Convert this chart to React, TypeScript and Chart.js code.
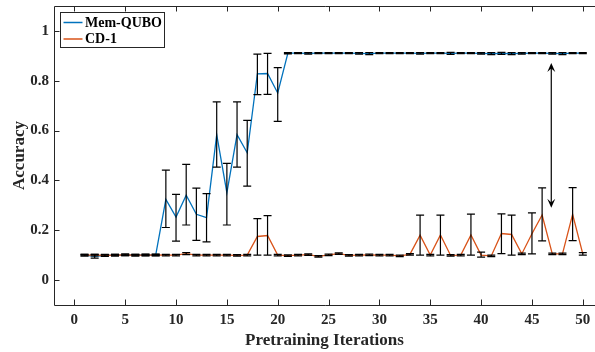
import { useEffect, useRef } from "react";
import { Chart, registerables } from "chart.js";

Chart.register(...registerables);

const iterations = [
  1, 2, 3, 4, 5, 6, 7, 8, 9, 10, 11, 12, 13, 14, 15, 16, 17, 18, 19, 20, 21, 22, 23, 24, 25,
  26, 27, 28, 29, 30, 31, 32, 33, 34, 35, 36, 37, 38, 39, 40, 41, 42, 43, 44, 45, 46, 47, 48, 49, 50,
];

const memQubo = [
  0.1, 0.095, 0.099, 0.1, 0.101, 0.1, 0.101, 0.1, 0.324, 0.253,
  0.341, 0.264, 0.251, 0.584, 0.351, 0.584, 0.511, 0.828, 0.829, 0.751,
  0.911, 0.911, 0.91, 0.911, 0.911, 0.911, 0.911, 0.91, 0.909, 0.911,
  0.911, 0.911, 0.911, 0.91, 0.911, 0.911, 0.91, 0.911, 0.911, 0.91,
  0.909, 0.91, 0.909, 0.91, 0.911, 0.911, 0.91, 0.909, 0.911, 0.911,
];
const memLow = [
  0.097, 0.088, 0.095, 0.097, 0.098, 0.097, 0.098, 0.097, 0.211, 0.156,
  0.221, 0.159, 0.153, 0.453, 0.221, 0.453, 0.377, 0.744, 0.745, 0.637,
  0.908, 0.909, 0.907, 0.909, 0.909, 0.909, 0.909, 0.907, 0.905, 0.909,
  0.909, 0.909, 0.909, 0.907, 0.909, 0.909, 0.906, 0.909, 0.909, 0.907,
  0.905, 0.906, 0.905, 0.907, 0.909, 0.909, 0.907, 0.905, 0.909, 0.909,
];
const memHigh = [
  0.103, 0.103, 0.103, 0.103, 0.104, 0.103, 0.104, 0.103, 0.441, 0.344,
  0.464, 0.369, 0.347, 0.715, 0.468, 0.715, 0.641, 0.907, 0.91, 0.853,
  0.913, 0.913, 0.913, 0.913, 0.913, 0.913, 0.913, 0.913, 0.913, 0.913,
  0.913, 0.913, 0.913, 0.913, 0.913, 0.913, 0.914, 0.913, 0.913, 0.913,
  0.913, 0.914, 0.913, 0.913, 0.913, 0.913, 0.913, 0.913, 0.913, 0.913,
];

const cd1 = [
  0.1, 0.1, 0.099, 0.1, 0.101, 0.1, 0.1, 0.101, 0.1, 0.1,
  0.106, 0.1, 0.1, 0.1, 0.1, 0.099, 0.1, 0.175, 0.179, 0.1,
  0.098, 0.1, 0.102, 0.095, 0.101, 0.106, 0.099, 0.1, 0.101, 0.1,
  0.1, 0.097, 0.103, 0.18, 0.1, 0.181, 0.099, 0.1, 0.181, 0.1,
  0.097, 0.187, 0.183, 0.105, 0.186, 0.261, 0.105, 0.105, 0.264, 0.105,
];
const cd1Low = [
  0.097, 0.097, 0.096, 0.097, 0.098, 0.097, 0.097, 0.098, 0.097, 0.097,
  0.102, 0.097, 0.097, 0.097, 0.097, 0.096, 0.097, 0.1, 0.1, 0.097,
  0.095, 0.097, 0.099, 0.092, 0.098, 0.103, 0.096, 0.097, 0.098, 0.097,
  0.097, 0.094, 0.1, 0.1, 0.097, 0.1, 0.096, 0.097, 0.1, 0.092,
  0.094, 0.106, 0.1, 0.102, 0.105, 0.157, 0.102, 0.102, 0.158, 0.1,
];
const cd1High = [
  0.103, 0.103, 0.102, 0.103, 0.104, 0.103, 0.103, 0.104, 0.103, 0.103,
  0.11, 0.103, 0.103, 0.103, 0.103, 0.102, 0.103, 0.247, 0.259, 0.103,
  0.101, 0.103, 0.105, 0.098, 0.104, 0.109, 0.102, 0.103, 0.104, 0.103,
  0.103, 0.1, 0.106, 0.261, 0.103, 0.261, 0.102, 0.103, 0.265, 0.112,
  0.1, 0.266, 0.261, 0.108, 0.27, 0.37, 0.108, 0.108, 0.371, 0.11,
];

const seriesNames = ["Mem-QUBO", "CD-1"];
const seriesColors = ["#0072BD", "#D95319"];
const xTicks = [0, 5, 10, 15, 20, 25, 30, 35, 40, 45, 50];
const yTicks = [0, 0.2, 0.4, 0.6, 0.8, 1];
const xTitle = "Pretraining Iterations";
const yTitle = "Accuracy";
const arrowX = 46.9;
const arrowFrom = 0.29;
const arrowTo = 0.871;

const FONT = "'Liberation Serif', 'Times New Roman', serif";
const AXIS_COLOR = "#262626";

const errorBarPlugin = {
  id: "errorBars",
  afterDatasetsDraw(chart: any) {
    const { ctx, scales } = chart;
    const xs = scales.x;
    const ys = scales.y;
    const sets = [
      [memLow, memHigh],
      [cd1Low, cd1High],
    ];
    ctx.save();
    ctx.strokeStyle = "#000";
    ctx.lineWidth = 1.2;
    sets.forEach(([lo, hi]) => {
      iterations.forEach((it, i) => {
        const px = xs.getPixelForValue(it);
        const y1 = ys.getPixelForValue(lo[i]);
        const y2 = ys.getPixelForValue(hi[i]);
        ctx.beginPath();
        ctx.moveTo(px, y1);
        ctx.lineTo(px, y2);
        ctx.moveTo(px - 4, y1);
        ctx.lineTo(px + 4, y1);
        ctx.moveTo(px - 4, y2);
        ctx.lineTo(px + 4, y2);
        ctx.stroke();
      });
    });
    ctx.restore();
  },
};

function arrowHead(ctx: any, x: number, tipY: number, dir: number) {
  const len = 9;
  const half = 4;
  ctx.beginPath();
  ctx.moveTo(x, tipY);
  ctx.lineTo(x - half, tipY + dir * len);
  ctx.lineTo(x, tipY + dir * len * 0.6);
  ctx.lineTo(x + half, tipY + dir * len);
  ctx.closePath();
  ctx.fill();
}

const framePlugin = {
  id: "frame",
  afterDraw(chart: any) {
    const { ctx, chartArea, scales } = chart;
    const { left, right, top, bottom } = chartArea;
    const xs = scales.x;
    const ys = scales.y;
    ctx.save();
    ctx.strokeStyle = AXIS_COLOR;
    ctx.lineWidth = 1;
    ctx.beginPath();
    ctx.moveTo(right + 5, top + 0.5);
    ctx.lineTo(left + 0.5, top + 0.5);
    ctx.lineTo(left + 0.5, bottom + 0.5);
    ctx.lineTo(right + 5, bottom + 0.5);
    ctx.stroke();
    ctx.beginPath();
    xTicks.forEach((v) => {
      const px = Math.round(xs.getPixelForValue(v)) + 0.5;
      ctx.moveTo(px, bottom);
      ctx.lineTo(px, bottom - 5.5);
      ctx.moveTo(px, top);
      ctx.lineTo(px, top + 5.5);
    });
    yTicks.forEach((v) => {
      const py = Math.round(ys.getPixelForValue(v)) + 0.5;
      ctx.moveTo(left, py);
      ctx.lineTo(left + 5.5, py);
    });
    ctx.stroke();

    const ax = xs.getPixelForValue(arrowX);
    const ay1 = ys.getPixelForValue(arrowFrom);
    const ay2 = ys.getPixelForValue(arrowTo);
    ctx.strokeStyle = "#000";
    ctx.fillStyle = "#000";
    ctx.lineWidth = 1.2;
    ctx.beginPath();
    ctx.moveTo(ax, ay1 - 4);
    ctx.lineTo(ax, ay2 + 4);
    ctx.stroke();
    arrowHead(ctx, ax, ay2, 1);
    arrowHead(ctx, ax, ay1, -1);

    const lx = left + 6.5;
    const ly = top + 6.5;
    const lw = 104;
    const lh = 35;
    ctx.fillStyle = "#fff";
    ctx.fillRect(lx, ly, lw, lh);
    ctx.strokeStyle = AXIS_COLOR;
    ctx.lineWidth = 1;
    ctx.strokeRect(lx, ly, lw, lh);
    ctx.font = `bold 14px ${FONT}`;
    ctx.textBaseline = "middle";
    ctx.textAlign = "left";
    seriesNames.forEach((name, i) => {
      const cy = ly + 10 + i * 16.5;
      ctx.strokeStyle = seriesColors[i];
      ctx.lineWidth = 1.5;
      ctx.beginPath();
      ctx.moveTo(lx + 3, cy);
      ctx.lineTo(lx + 22, cy);
      ctx.stroke();
      ctx.fillStyle = "#000";
      ctx.fillText(name, lx + 24.5, cy + 0.5);
    });
    ctx.restore();
  },
};

function zeroPadding(s: any) {
  s.paddingTop = 0;
  s.paddingBottom = 0;
  s.paddingLeft = 0;
  s.paddingRight = 0;
}

export default function App() {
  const canvasRef = useRef<HTMLCanvasElement | null>(null);

  useEffect(() => {
    if (!canvasRef.current) return;
    const chart = new Chart(canvasRef.current, {
      type: "line",
      data: {
        datasets: [
          {
            label: seriesNames[0],
            data: iterations.map((x, i) => ({ x, y: memQubo[i] })),
            borderColor: seriesColors[0],
            backgroundColor: seriesColors[0],
            borderWidth: 1.3,
            pointRadius: 0,
            tension: 0,
            fill: false,
            order: 2,
          },
          {
            label: seriesNames[1],
            data: iterations.map((x, i) => ({ x, y: cd1[i] })),
            borderColor: seriesColors[1],
            backgroundColor: seriesColors[1],
            borderWidth: 1.3,
            pointRadius: 0,
            tension: 0,
            fill: false,
            order: 1,
          },
        ],
      },
      options: {
        animation: false,
        responsive: false,
        maintainAspectRatio: false,
        layout: { padding: { top: 6, left: 0, right: 0, bottom: 0 } },
        plugins: {
          legend: { display: false },
          tooltip: { enabled: false },
        },
        scales: {
          x: {
            type: "linear",
            min: -2,
            max: 51.2,
            grid: { display: false, drawTicks: false },
            border: { display: false },
            afterBuildTicks: (s: any) => {
              s.ticks = xTicks.map((v) => ({ value: v }));
            },
            afterFit: (s: any) => {
              s.height = 47;
              zeroPadding(s);
            },
            ticks: {
              color: AXIS_COLOR,
              font: { family: FONT, size: 15, weight: "bold" },
              padding: 6,
              maxRotation: 0,
              autoSkip: false,
              callback: (v: any) => String(v),
            },
            title: {
              display: true,
              text: xTitle,
              color: AXIS_COLOR,
              font: { family: FONT, size: 17, weight: "bold" },
              padding: { top: 0, bottom: 1 },
            },
          },
          y: {
            type: "linear",
            min: -0.1,
            max: 1.1,
            grid: { display: false, drawTicks: false },
            border: { display: false },
            afterBuildTicks: (s: any) => {
              s.ticks = yTicks.map((v) => ({ value: v }));
            },
            afterFit: (s: any) => {
              s.width = 54;
              zeroPadding(s);
            },
            ticks: {
              color: AXIS_COLOR,
              font: { family: FONT, size: 15, weight: "bold" },
              padding: 5,
              callback: (v: any) => String(Number(Number(v).toFixed(1))),
            },
            title: {
              display: true,
              text: yTitle,
              color: AXIS_COLOR,
              font: { family: FONT, size: 17, weight: "bold" },
              padding: { top: 9, bottom: 0 },
            },
          },
        },
      },
      plugins: [errorBarPlugin, framePlugin],
    });
    return () => chart.destroy();
  }, []);

  return (
    <div style={{ position: "absolute", left: 0, top: 0, width: 595, height: 352, background: "#fff" }}>
      <canvas ref={canvasRef} width={595} height={352} style={{ display: "block" }} />
    </div>
  );
}
